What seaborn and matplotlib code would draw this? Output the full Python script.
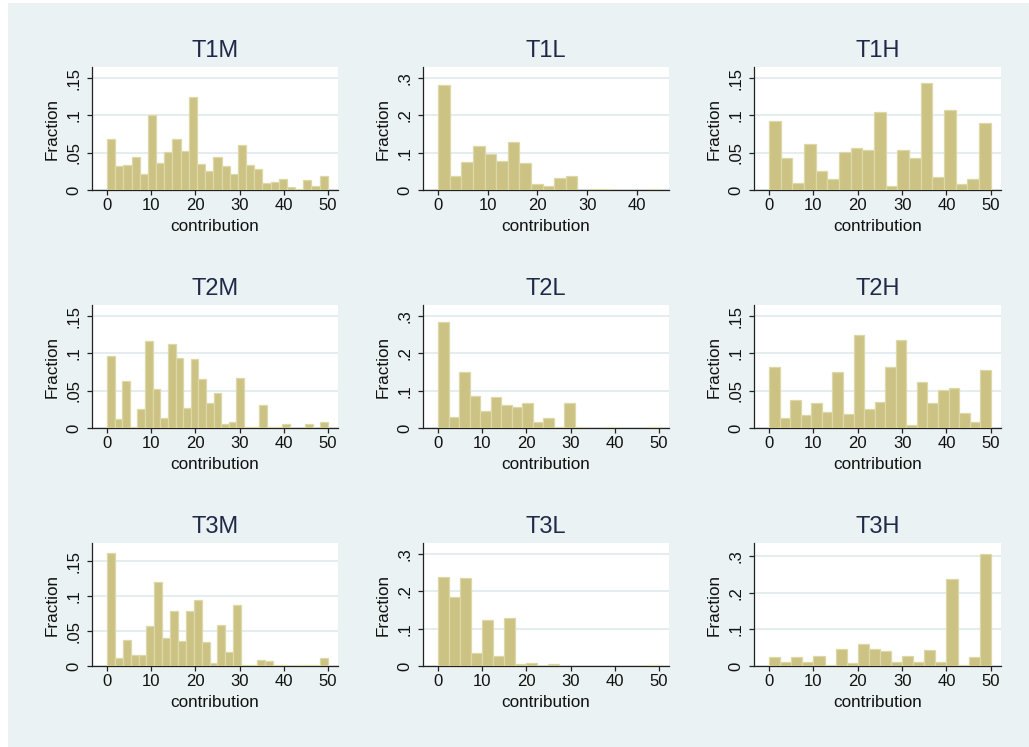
import numpy as np
import pandas as pd
import matplotlib
matplotlib.use("Agg")
import matplotlib.pyplot as plt
import seaborn as sns
from matplotlib.patches import Rectangle
from matplotlib.ticker import FuncFormatter

# ---------------- data (fraction per bin) ----------------
panel_names = ["T1M", "T1L", "T1H", "T2M", "T2L", "T2H", "T3M", "T3L", "T3H"]

t1m = [0.069, 0.032, 0.033, 0.044, 0.022, 0.101, 0.036, 0.051, 0.069, 0.052,
       0.125, 0.035, 0.025, 0.044, 0.032, 0.021, 0.060, 0.033, 0.028, 0.009,
       0.011, 0.015, 0.004, 0.001, 0.014, 0.005, 0.019]
t1l = [0.282, 0.037, 0.075, 0.118, 0.096, 0.078, 0.128, 0.073, 0.016, 0.010,
       0.032, 0.037, 0.0, 0.003, 0.003, 0.0, 0.0, 0.0, 0.003]
t1h = [0.092, 0.043, 0.010, 0.062, 0.025, 0.015, 0.051, 0.056, 0.054, 0.105,
       0.005, 0.054, 0.043, 0.143, 0.017, 0.107, 0.008, 0.015, 0.090]
t2m = [0.097, 0.012, 0.063, 0.002, 0.025, 0.117, 0.052, 0.013, 0.113, 0.094,
       0.027, 0.093, 0.066, 0.033, 0.047, 0.006, 0.008, 0.067, 0.002, 0.001,
       0.031, 0.001, 0.002, 0.005, 0.0, 0.0, 0.005, 0.0, 0.008]
t2l = [0.285, 0.030, 0.150, 0.086, 0.046, 0.083, 0.062, 0.057, 0.068, 0.015,
       0.026, 0.002, 0.068, 0.002, 0.0, 0.0, 0.004, 0.0, 0.0, 0.0, 0.003]
t2h = [0.082, 0.013, 0.037, 0.017, 0.033, 0.021, 0.075, 0.019, 0.125, 0.026,
       0.035, 0.082, 0.118, 0.004, 0.062, 0.033, 0.051, 0.054, 0.020, 0.008,
       0.078]
t3m = [0.161, 0.011, 0.037, 0.016, 0.016, 0.057, 0.120, 0.040, 0.079, 0.036,
       0.078, 0.095, 0.034, 0.005, 0.058, 0.020, 0.088, 0.001, 0.001, 0.009,
       0.007, 0.001, 0.001, 0.0, 0.001, 0.002, 0.001, 0.011]
t3l = [0.240, 0.185, 0.236, 0.035, 0.123, 0.026, 0.129, 0.005, 0.008, 0.0,
       0.005, 0.0, 0.0, 0.0, 0.0, 0.0, 0.0, 0.0, 0.0, 0.002]
t3h = [0.024, 0.010, 0.024, 0.010, 0.026, 0.004, 0.045, 0.007, 0.059, 0.045,
       0.041, 0.012, 0.026, 0.010, 0.043, 0.010, 0.237, 0.004, 0.024, 0.305]

fractions = [t1m, t1l, t1h, t2m, t2l, t2h, t3m, t3l, t3h]
# contribution range covered by the bins in each panel
range_max = [50, 44.4, 50, 50, 50, 50, 50, 50, 50]
x_ticks_all = [[0, 10, 20, 30, 40, 50], [0, 10, 20, 30, 40], [0, 10, 20, 30, 40, 50],
               [0, 10, 20, 30, 40, 50], [0, 10, 20, 30, 40, 50], [0, 10, 20, 30, 40, 50],
               [0, 10, 20, 30, 40, 50], [0, 10, 20, 30, 40, 50], [0, 10, 20, 30, 40, 50]]
y_ticks_small = [0, 0.05, 0.10, 0.15]
y_ticks_large = [0, 0.1, 0.2, 0.3]
y_ticks_all = [y_ticks_small, y_ticks_large, y_ticks_small,
               y_ticks_small, y_ticks_large, y_ticks_small,
               y_ticks_small, y_ticks_large, y_ticks_large]

# ---------------- style ----------------
sns.set_theme(style="white")
plt.rcParams["font.family"] = ["Liberation Sans", "DejaVu Sans"]

BG = "#EAF2F3"
BAR = "#CBC283"
BAR_EDGE = "#DDD8A8"
GRID = "#E0EAEC"
TITLE_C = "#1E2A48"

W, H = 1029, 747
fig = plt.figure(figsize=(W / 100, H / 100), dpi=100)
fig.patch.set_facecolor("white")
fig.add_artist(Rectangle((8 / W, 0), 1 - 8 / W, 1 - 3 / H, transform=fig.transFigure,
                         facecolor=BG, edgecolor="none", zorder=-10))

col_lr = [(92, 338), (423, 669), (754, 1001)]
row_tb = [(67, 190), (305, 428), (543, 666)]


def stata_fmt(v, pos):
    s = f"{v:g}"
    if s.startswith("0."):
        s = s[1:]
    return s


for i, name in enumerate(panel_names):
    r, c = divmod(i, 3)
    l, rr = col_lr[c]
    t, b = row_tb[r]
    ax = fig.add_axes([l / W, 1 - b / H, (rr - l) / W, (b - t) / H])
    ax.set_facecolor("white")

    vals = np.array(fractions[i])
    n = len(vals)
    edges = np.linspace(0, range_max[i], n + 1)
    centers = (edges[:-1] + edges[1:]) / 2
    df = pd.DataFrame({"contribution": centers, "fraction": vals})
    sns.histplot(data=df, x="contribution", weights="fraction", bins=edges.tolist(),
                 stat="count", ax=ax, color=BAR, edgecolor=BAR_EDGE,
                 linewidth=0.9, alpha=1.0, zorder=3)

    yt = y_ticks_all[i]
    top = max(yt[-1], vals.max()) + 0.1 * yt[-1]
    ax.set_ylim(0, top)
    xmax = range_max[i]
    ax.set_xlim(-0.068 * xmax, xmax + 0.046 * xmax)

    ax.set_yticks(yt)
    ax.yaxis.set_major_formatter(FuncFormatter(stata_fmt))
    ax.set_xticks(x_ticks_all[i])
    ax.grid(axis="y", color=GRID, linewidth=1.2, zorder=0)
    ax.grid(axis="x", visible=False)

    for s in ["top", "right"]:
        ax.spines[s].set_visible(False)
    for s in ["left", "bottom"]:
        ax.spines[s].set_color("#222222")
        ax.spines[s].set_linewidth(0.9)

    ax.tick_params(axis="both", direction="out", length=3.6, width=0.9, color="#222222",
                   labelsize=12, labelcolor="#111111", bottom=True, left=True)
    ax.tick_params(axis="x", pad=2)
    ax.tick_params(axis="y", pad=4, labelrotation=90)
    for lbl in ax.get_yticklabels():
        lbl.set_va("center")

    ax.set_xlabel("contribution", fontsize=12.3, color="#111111", labelpad=4.5)
    ax.set_ylabel("Fraction", fontsize=12.3, color="#111111", labelpad=5)
    ax.set_title(name, fontsize=17, color=TITLE_C, pad=7.5)

fig.savefig("out.png", dpi=100, facecolor=fig.get_facecolor())
